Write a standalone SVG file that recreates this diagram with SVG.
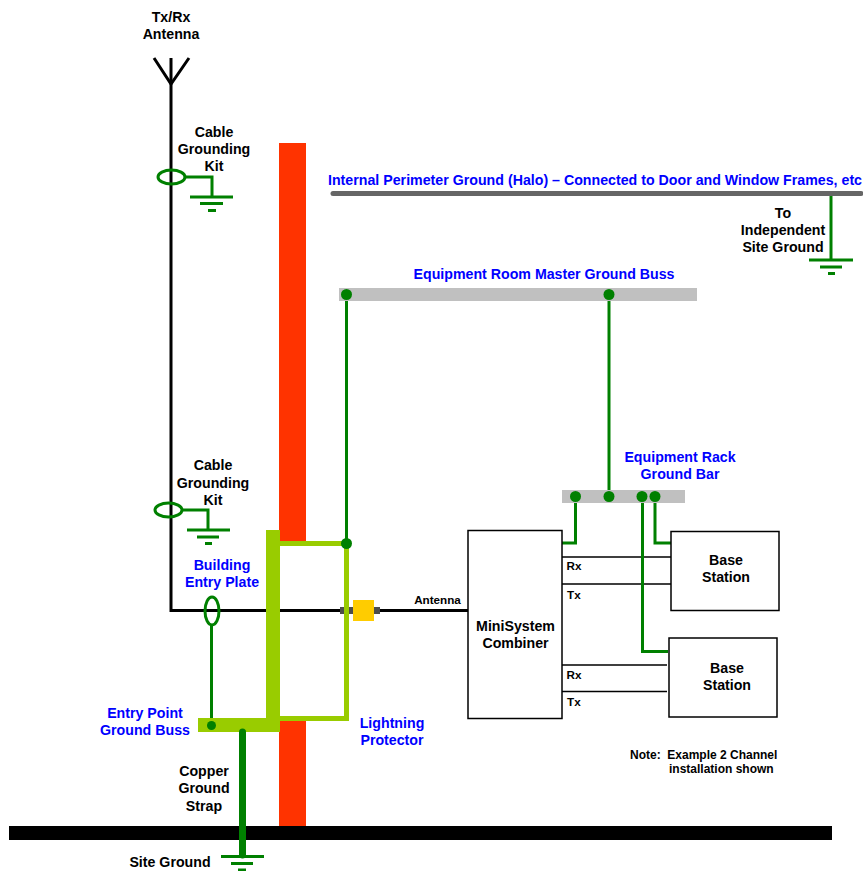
<svg xmlns="http://www.w3.org/2000/svg" width="863" height="871" viewBox="0 0 863 871">
<style>
text{font-family:"Liberation Sans",Arial,sans-serif;font-weight:bold;font-size:14.200px;fill:#000}
.b{fill:#0000ff}
.m{text-anchor:middle}
.s{font-size:11.700px}
.n{font-size:12px}
.g{fill:none;stroke:#008000;stroke-width:3}
.k{fill:none;stroke:#000;stroke-width:3}
.t{fill:none;stroke:#000;stroke-width:1.500}
.box{fill:#fff;stroke:#000;stroke-width:1.500}
.d{fill:#008000}
.l{fill:#99cc00}
</style>
<rect width="863" height="871" fill="#fff"/>
<g id="wall"><rect x="279" y="143" width="27" height="683" fill="#ff3300"/></g>
<g id="site-ground-bar"><rect x="9" y="826" width="823" height="14" fill="#000"/></g>
<g id="lightning-protector-frame">
<path d="M279 543.500H346.500V718.500H279Z" fill="#fff"/>
<path d="M279 543.500H346.500V718.500H279" fill="none" stroke="#99cc00" stroke-width="5"/>
</g>
<g id="connectors">
<path class="k" d="M171 58V610.500H353"/>
<path class="k" d="M154 58L171 84L189 58"/>
<path class="k" d="M380 610.500H468"/>
<path class="t" d="M562 557H671M562 584H671M562 665H667M562 691.500H667"/>
<path class="g" d="M346.500 294V543"/>
<path class="g" d="M609 294V496"/>
<path class="g" d="M575.500 497V543H562"/>
<path class="g" d="M655 497V543H672"/>
<path class="g" d="M642.500 497V651.500H668"/>
<path class="g" d="M185 177H212V197"/>
<path class="g" d="M182 510H208V530"/>
<path class="g" d="M211.500 625V725"/>
<path class="g" d="M831 193V260"/>
</g>
<g id="antenna-label"><text class="m" x="171" y="22">Tx/Rx</text><text class="m" x="171" y="39">Antenna</text></g>
<g id="grounding-kit-1">
<ellipse class="g" cx="171.500" cy="177" rx="13.500" ry="7"/>
<path class="g" d="M190 197H233M200 203.500H223M208 210.500H216"/>
<text class="m" x="214" y="137">Cable</text><text class="m" x="214" y="154">Grounding</text><text class="m" x="214" y="171">Kit</text>
</g>
<g id="grounding-kit-2">
<ellipse class="g" cx="168.500" cy="510" rx="13.500" ry="7"/>
<path class="g" d="M187 530H230M197 537H219M205 543.500H212"/>
<text class="m" x="213" y="470">Cable</text><text class="m" x="213" y="488">Grounding</text><text class="m" x="213" y="505">Kit</text>
</g>
<g id="halo">
<path d="M333 193.500H861" fill="none" stroke="#666" stroke-width="5" stroke-linecap="round"/>
<text class="b" x="328" y="185" textLength="534" lengthAdjust="spacing">Internal Perimeter Ground (Halo) – Connected to Door and Window Frames, etc</text>
</g>
<g id="independent-ground">
<path class="g" d="M809 260H853M820 267H842M828 273.500H835"/>
<text class="m" x="783" y="218">To</text><text class="m" x="783" y="235">Independent</text><text class="m" x="783" y="252">Site Ground</text>
</g>
<g id="master-buss">
<rect x="339" y="288" width="358" height="13" fill="#c0c0c0"/>
<circle class="d" cx="346.500" cy="294.500" r="5.500"/><circle class="d" cx="609" cy="294.500" r="5.500"/>
<text class="b m" x="544" y="279">Equipment Room Master Ground Buss</text>
</g>
<g id="rack-bar">
<rect x="562" y="490" width="123" height="13" fill="#c0c0c0"/>
<circle class="d" cx="575.500" cy="496.500" r="5.500"/><circle class="d" cx="609" cy="496.500" r="5.500"/><circle class="d" cx="642" cy="496.500" r="5.500"/><circle class="d" cx="655" cy="496.500" r="5.500"/>
<text class="b m" x="680" y="462">Equipment Rack</text><text class="b m" x="680" y="479">Ground Bar</text>
</g>
<g id="lightning-protector">
<rect x="340" y="607" width="40" height="7" fill="#4d4d4d"/>
<path d="M346.500 600V625" stroke="#99cc00" stroke-width="5"/>
<rect x="353" y="600" width="21" height="21" fill="#ffcc00"/>
<circle class="d" cx="346.500" cy="543.500" r="5.500"/>
<text class="b m" x="392" y="728">Lightning</text><text class="b m" x="392" y="745">Protector</text>
</g>
<g id="entry-plate">
<rect class="l" x="266" y="530" width="14" height="202"/>
<text class="b m" x="222" y="570">Building</text><text class="b m" x="222" y="587">Entry Plate</text>
<ellipse class="g" cx="212" cy="611" rx="7" ry="14"/>
</g>
<g id="entry-buss">
<rect class="l" x="198" y="718" width="82" height="14"/>
<circle class="d" cx="211.500" cy="725.500" r="4.500"/>
<text class="b m" x="145" y="718">Entry Point</text><text class="b m" x="145" y="735">Ground Buss</text>
</g>
<g id="strap">
<path d="M242.500 732V855" fill="none" stroke="#008000" stroke-width="7" stroke-linecap="round"/>
<text class="m" x="204" y="776">Copper</text><text class="m" x="204" y="793">Ground</text><text class="m" x="204" y="811">Strap</text>
</g>
<g id="site-ground">
<path class="g" d="M221 856.500H264M231 863.500H253M238 870H246"/>
<text class="m" x="170" y="867">Site Ground</text>
</g>
<g id="combiner">
<rect class="box" x="468" y="530.500" width="94" height="188"/>
<text class="m" x="515.500" y="631">MiniSystem</text><text class="m" x="515.500" y="648">Combiner</text>
<text class="m s" x="437.500" y="604">Antenna</text>
<text class="s" x="566.500" y="570">Rx</text><text class="s" x="567" y="599">Tx</text>
<text class="s" x="566.500" y="679">Rx</text><text class="s" x="567" y="706">Tx</text>
</g>
<g id="base-station-1">
<rect class="box" x="671" y="531.500" width="108" height="79"/>
<text class="m" x="726" y="565">Base</text><text class="m" x="726" y="582">Station</text>
</g>
<g id="base-station-2">
<rect class="box" x="669" y="638" width="108" height="79"/>
<text class="m" x="727" y="673">Base</text><text class="m" x="727" y="690">Station</text>
</g>
<g id="note">
<text class="n" x="630" y="759" xml:space="preserve">Note:  Example 2 Channel</text><text class="n" x="669" y="773">installation shown</text>
</g>
</svg>
